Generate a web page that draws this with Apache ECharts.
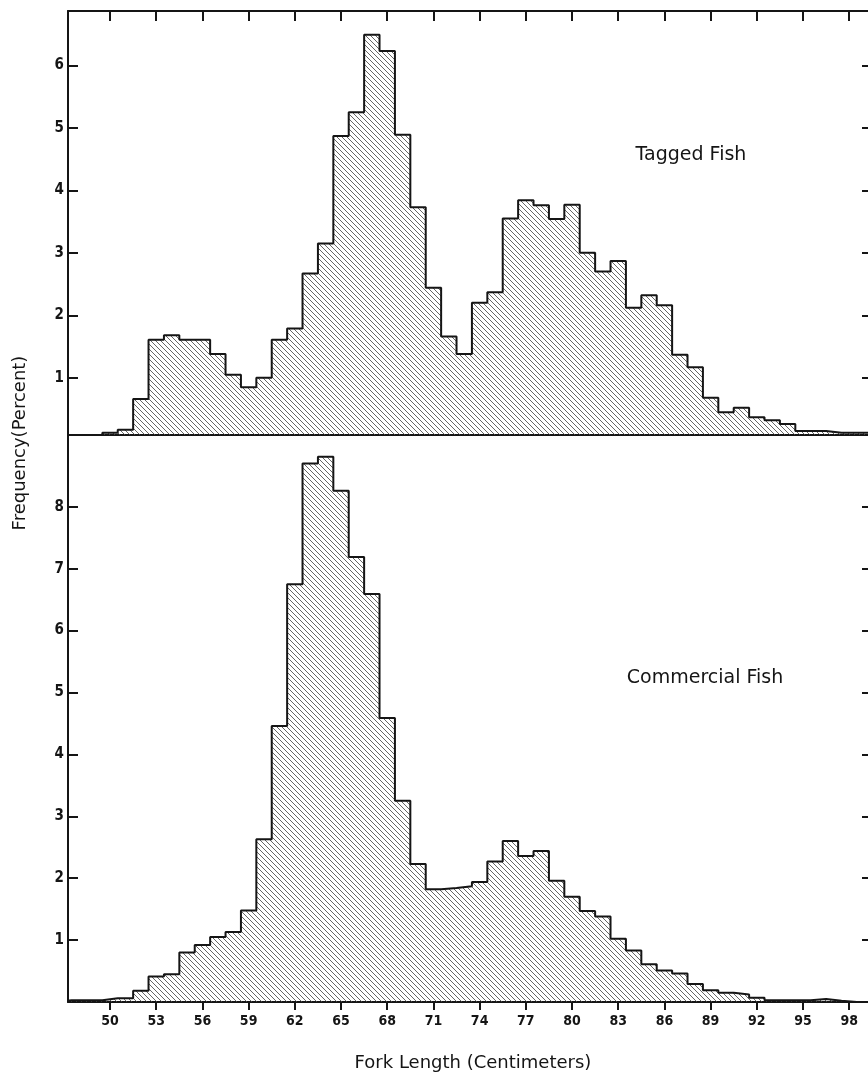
<!DOCTYPE html>
<html><head><meta charset="utf-8">
<script src="https://cdn.jsdelivr.net/npm/echarts@6/dist/echarts.min.js"></script>
<style>html,body{margin:0;padding:0;background:#fff}#c{width:868px;height:1082px}</style>
</head><body><div id="c"></div>
<script>
// Fork length bins (cm), centred on integers
const lengths = [47,48,49,50,51,52,53,54,55,56,57,58,59,60,61,62,63,64,65,66,67,68,69,70,71,72,73,74,75,76,77,78,79,80,81,82,83,84,85,86,87,88,89,90,91,92,93,94,95,96,97,98,99];
// Tagged fish frequency (%) — null where no bar
const taggedFreq = [null,null,null,0.12,0.17,0.66,1.61,1.68,1.61,1.61,1.38,1.05,0.85,1.00,1.61,1.79,2.67,3.15,4.87,5.25,6.49,6.23,4.89,3.73,2.44,1.66,1.38,2.20,2.37,3.55,3.84,3.76,3.54,3.77,3.00,2.70,2.87,2.12,2.32,2.16,1.37,1.17,0.68,0.45,0.52,0.37,0.32,0.26,0.15,0.15,0.12,0.12,0.12];
// Commercial fish frequency (%)
const commercialFreq = [0.03,0.03,0.03,0.06,0.06,0.18,0.41,0.45,0.80,0.92,1.05,1.13,1.48,2.63,4.46,6.75,8.70,8.81,8.26,7.19,6.59,4.59,3.25,2.23,1.82,1.84,1.87,1.94,2.27,2.60,2.36,2.44,1.96,1.70,1.47,1.38,1.02,0.83,0.61,0.51,0.46,0.29,0.19,0.15,0.12,0.07,0.03,0.03,0.03,0.05,0.02,0,0];
const xTickLabels = [50,53,56,59,62,65,68,71,74,77,80,83,86,89,92,95,98];
const taggedTicks = [1,2,3,4,5,6];
const commercialTicks = [1,2,3,4,5,6,7,8];

function stepPoints(xs, vs){
  const pts = [];
  let first = -1, last = -1;
  for (let i=0;i<xs.length;i++){ if (vs[i]!==null){ if(first<0) first=i; last=i; } }
  pts.push([xs[first]-0.5, 0]);
  for (let i=first;i<=last;i++){
    pts.push([xs[i]-0.5, vs[i]]);
    pts.push([xs[i]+0.5, vs[i]]);
  }
  pts.push([xs[last]+0.5, 0]);
  return pts;
}

// hatch pattern
const tile = document.createElement('canvas');
tile.width = 5; tile.height = 5;
const tc = tile.getContext('2d');
tc.strokeStyle = '#4a4a4a'; tc.lineWidth = 0.85;
tc.beginPath();
tc.moveTo(-1,-1); tc.lineTo(6,6);
tc.moveTo(-1,4); tc.lineTo(1,6);
tc.moveTo(4,-1); tc.lineTo(6,1);
tc.stroke();
const hatch = {image: tile, repeat: 'repeat'};

const FONT = "'Liberation Sans Narrow','DejaVu Sans Condensed','Roboto Condensed',sans-serif";
const ink = '#151515';
const xMin = 47.27, xMax = 99.22;

const chart = echarts.init(document.getElementById('c'), null, {renderer:'canvas'});
chart.setOption({
  animation: false,
  backgroundColor: '#fff',
  grid: [
    {left: 68, width: 800, top: 11, height: 424},
    {left: 68, width: 800, top: 435, height: 567}
  ],
  xAxis: [
    {type:'value', gridIndex:0, position:'bottom', min:xMin, max:xMax,
     axisLine:{show:true, onZero:false, lineStyle:{color:ink, width:2}},
     axisTick:{show:false}, axisLabel:{show:false}, splitLine:{show:false}},
    {type:'value', gridIndex:0, position:'top', min:xMin, max:xMax,
     axisLine:{show:true, onZero:false, lineStyle:{color:ink, width:2}},
     axisTick:{show:true, inside:true, length:10, customValues:xTickLabels, lineStyle:{color:ink, width:2}},
     axisLabel:{show:false}, splitLine:{show:false}},
    {type:'value', gridIndex:1, position:'bottom', min:xMin, max:xMax,
     axisLine:{show:true, onZero:false, lineStyle:{color:ink, width:2}},
     axisTick:{show:true, inside:false, length:8, customValues:xTickLabels, lineStyle:{color:ink, width:2}},
     axisLabel:{show:true, customValues:xTickLabels, margin:12, color:ink, fontFamily:FONT, fontWeight:'bold', fontSize:14},
     splitLine:{show:false}}
  ],
  yAxis: [
    {type:'value', gridIndex:0, position:'left', min:0.085, max:6.87,
     axisLine:{show:true, onZero:false, lineStyle:{color:ink, width:2}},
     axisTick:{show:true, inside:true, length:10, customValues:taggedTicks, lineStyle:{color:ink, width:2}},
     axisLabel:{show:true, customValues:taggedTicks, margin:4, color:ink, fontFamily:FONT, fontWeight:'bold', fontSize:15},
     splitLine:{show:false}},
    {type:'value', gridIndex:0, position:'right', min:0.085, max:6.87,
     axisLine:{show:false},
     axisTick:{show:true, inside:true, length:6, customValues:taggedTicks, lineStyle:{color:ink, width:2}},
     axisLabel:{show:false}, splitLine:{show:false}},
    {type:'value', gridIndex:1, position:'left', min:0, max:9.16,
     axisLine:{show:true, onZero:false, lineStyle:{color:ink, width:2}},
     axisTick:{show:true, inside:true, length:10, customValues:commercialTicks, lineStyle:{color:ink, width:2}},
     axisLabel:{show:true, customValues:commercialTicks, margin:4, color:ink, fontFamily:FONT, fontWeight:'bold', fontSize:15},
     splitLine:{show:false}},
    {type:'value', gridIndex:1, position:'right', min:0, max:9.16,
     axisLine:{show:false},
     axisTick:{show:true, inside:true, length:6, customValues:commercialTicks, lineStyle:{color:ink, width:2}},
     axisLabel:{show:false}, splitLine:{show:false}}
  ],
  series: [
    {type:'line', name:'Tagged Fish', xAxisIndex:0, yAxisIndex:0, data: stepPoints(lengths, taggedFreq),
     showSymbol:false, clip:true, lineStyle:{color:ink, width:2}, areaStyle:{color:hatch, opacity:1, origin:'start'}},
    {type:'line', name:'Commercial Fish', xAxisIndex:2, yAxisIndex:2, data: stepPoints(lengths, commercialFreq),
     showSymbol:false, clip:true, lineStyle:{color:ink, width:2}, areaStyle:{color:hatch, opacity:1, origin:'start'}}
  ],
  graphic: [
    {type:'text', x:691, y:155, style:{text:'Tagged Fish', font:"19px 'DejaVu Sans'", fill:ink, textAlign:'center', textVerticalAlign:'middle'}},
    {type:'text', x:705, y:678, style:{text:'Commercial Fish', font:"19px 'DejaVu Sans'", fill:ink, textAlign:'center', textVerticalAlign:'middle'}},
    {type:'text', x:20, y:443, rotation:Math.PI/2, style:{text:'Frequency(Percent)', font:"18px 'DejaVu Sans'", fill:ink, textAlign:'center', textVerticalAlign:'middle'}},
    {type:'text', x:473, y:1063, style:{text:'Fork Length (Centimeters)', font:"18px 'DejaVu Sans'", fill:ink, textAlign:'center', textVerticalAlign:'middle'}}
  ]
});
</script>
</body></html>
